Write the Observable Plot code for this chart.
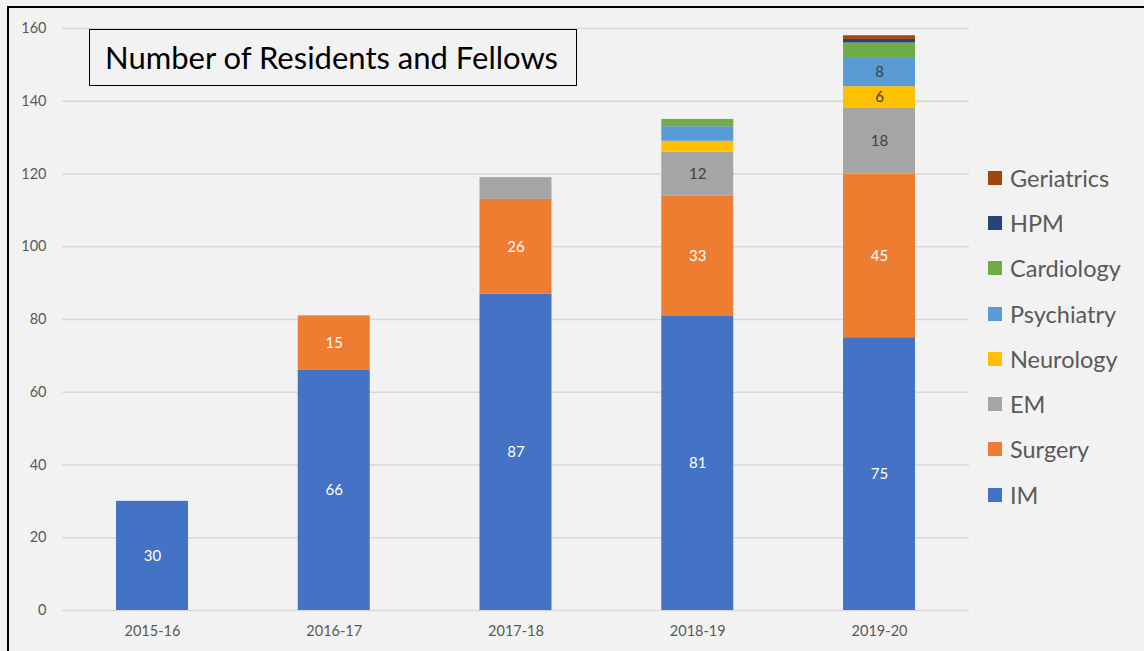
<!DOCTYPE html>
<html><head><meta charset="utf-8">
<script src="https://cdn.jsdelivr.net/npm/d3@7"></script>
<script src="https://cdn.jsdelivr.net/npm/@observablehq/plot@0.6"></script>
<style>
html,body{margin:0;padding:0;background:#f2f2f2;overflow:hidden;width:1144px;height:651px;}
#wrap{position:relative;width:1144px;height:651px;font-family:Lato,sans-serif;overflow:hidden;}
#chart{position:absolute;left:0;top:0;}
#frame{position:absolute;left:7px;top:6px;width:1300px;height:800px;border:2px solid #000;box-sizing:border-box;pointer-events:none;}
#title{position:absolute;left:89px;top:29px;width:488px;height:57px;box-sizing:border-box;border:1.5px solid #000;font-size:31px;color:#000;line-height:54px;padding-left:15px;white-space:nowrap;}
#legend{position:absolute;left:988px;top:155px;}
.item{height:45.3px;display:flex;align-items:center;font-size:23.5px;color:#595959;}
.sw{width:14px;height:14px;margin-right:8px;flex:none;}
</style>
</head><body>
<div id="wrap">
<div id="chart"></div>
<div id="frame"></div>
<div id="title">Number of Residents and Fellows</div>
<div id="legend"></div>
</div>
<script>
const years = ["2015-16","2016-17","2017-18","2018-19","2019-20"];
const specialties = ["IM","Surgery","EM","Neurology","Psychiatry","Cardiology","HPM","Geriatrics"];
const colors = ["#4472c4","#ed7d31","#a5a5a5","#ffc000","#5b9bd5","#70ad47","#264478","#9e480e"];
const IM         = [30,66,87,81,75];
const Surgery    = [0,15,26,33,45];
const EM         = [0,0,6,12,18];
const Neurology  = [0,0,0,3,6];
const Psychiatry = [0,0,0,4,8];
const Cardiology = [0,0,0,2,4];
const HPM        = [0,0,0,0,1];
const Geriatrics = [0,0,0,0,1];
const yTicks = [0,20,40,60,80,100,120,140,160];
// segments that carry a data label
const labeled = [
  ["2015-16","IM"],["2016-17","IM"],["2016-17","Surgery"],
  ["2017-18","IM"],["2017-18","Surgery"],
  ["2018-19","IM"],["2018-19","Surgery"],["2018-19","EM"],
  ["2019-20","IM"],["2019-20","Surgery"],["2019-20","EM"],["2019-20","Neurology"],["2019-20","Psychiatry"]
];
const lightLabelSpecialties = ["IM","Surgery"];

const series = {IM,Surgery,EM,Neurology,Psychiatry,Cardiology,HPM,Geriatrics};
const rows = [];
years.forEach((year,i)=>specialties.forEach(s=>{
  if (series[s][i] > 0) rows.push({year, specialty:s, value:series[s][i],
    show: labeled.some(([y,sp])=>y===year&&sp===s)});
}));

const stackOpts = {x:"year", y:"value", z:"specialty", order:specialties};
const chart = Plot.plot({
  width:1144, height:651,
  marginLeft:62, marginRight:175, marginTop:28, marginBottom:41,
  style:{background:"transparent", fontFamily:"Lato, sans-serif", fontSize:"14.5px", color:"#595959", overflow:"visible"},
  x:{domain:years, paddingInner:0.604, paddingOuter:0.297, round:false, label:null, tickSize:0, tickPadding:15},
  y:{domain:[0,160], ticks:yTicks, label:null, tickSize:0, tickPadding:16},
  color:{domain:specialties, range:colors},
  marks:[
    Plot.gridY(yTicks,{stroke:"#d9d9d9", strokeOpacity:1, strokeWidth:1.3}),
    Plot.barY(rows, Plot.stackY({...stackOpts, fill:"specialty"})),
    Plot.text(rows, Plot.stackY({...stackOpts,
      text:d=>d.show && lightLabelSpecialties.includes(d.specialty) ? String(d.value) : "",
      fill:"#ffffff", fontSize:15})),
    Plot.text(rows, Plot.stackY({...stackOpts,
      text:d=>d.show && !lightLabelSpecialties.includes(d.specialty) ? String(d.value) : "",
      fill:"#404040", fontSize:15}))
  ]
});
document.getElementById("chart").appendChild(chart);

const legend = d3.select("#legend");
specialties.slice().reverse().forEach(s=>{
  const it = legend.append("div").attr("class","item");
  it.append("div").attr("class","sw").style("background", colors[specialties.indexOf(s)]);
  it.append("span").text(s);
});
</script>
</body></html>
